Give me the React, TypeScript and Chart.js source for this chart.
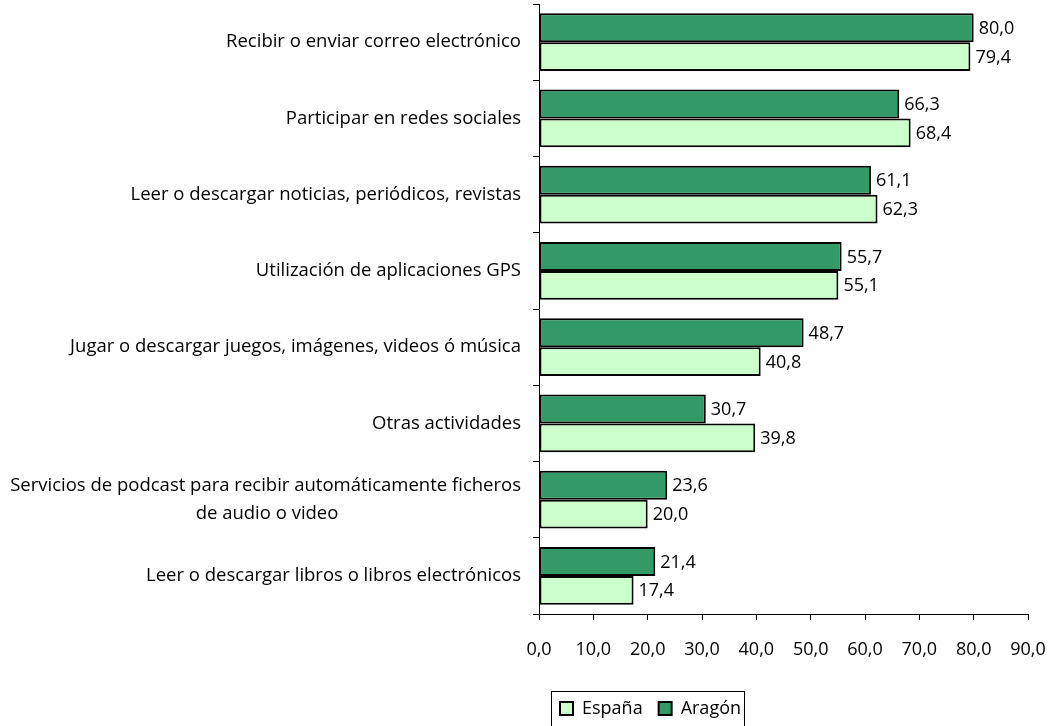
import React, { useEffect, useRef } from "react";
import { Chart, registerables } from "chart.js";

Chart.register(...registerables);

const categories: (string | string[])[] = [
  "Recibir o enviar correo electrónico",
  "Participar en redes sociales",
  "Leer o descargar noticias, periódicos, revistas",
  "Utilización de aplicaciones GPS",
  "Jugar o descargar juegos, imágenes, videos ó música",
  "Otras actividades",
  ["Servicios de podcast para recibir automáticamente ficheros", "de audio o video"],
  "Leer o descargar libros o libros electrónicos",
];
const aragon = [80.0, 66.3, 61.1, 55.7, 48.7, 30.7, 23.6, 21.4];
const espana = [79.4, 68.4, 62.3, 55.1, 40.8, 39.8, 20.0, 17.4];
const xTicks = [0, 10, 20, 30, 40, 50, 60, 70, 80, 90];

const FONT = "'Open Sans', sans-serif";
const SIZE = 18;
const YSIZE = 18.5;
const fmt = (v: number) => v.toFixed(1).replace(".", ",");

// centre the lines of a multi-line category label (right-aligned block)
const measureCtx = document.createElement("canvas").getContext("2d")!;
function centreLines(label: string | string[]): string | string[] {
  if (!Array.isArray(label)) return label;
  measureCtx.font = `${YSIZE}px ${FONT}`;
  const widths = label.map((l) => measureCtx.measureText(l).width);
  const maxW = Math.max(...widths);
  const sp = measureCtx.measureText("\u00A0").width;
  return label.map((l, i) => l + "\u00A0".repeat(Math.round((maxW - widths[i]) / 2 / sp)));
}

const valueLabels = {
  id: "valueLabels",
  afterDatasetsDraw(chart: any) {
    const ctx = chart.ctx;
    ctx.save();
    ctx.font = `${SIZE}px ${FONT}`;
    ctx.fillStyle = "#000";
    ctx.textAlign = "left";
    ctx.textBaseline = "middle";
    chart.data.datasets.forEach((ds: any, i: number) => {
      const meta = chart.getDatasetMeta(i);
      meta.data.forEach((el: any, j: number) => {
        ctx.fillText(fmt(ds.data[j]), el.x + 5, el.y + 1);
      });
    });
    ctx.restore();
  },
};

const LEG_PAD = 16;
const legendPlace = {
  id: "legendPlace",
  afterLayout(chart: any) {
    const lg = chart.legend;
    if (!lg) return;
    const w = lg.right - lg.left;
    lg.left = 560 - LEG_PAD;
    lg.right = lg.left + w;
    const h = lg.bottom - lg.top;
    lg.top = 708.5 - LEG_PAD - SIZE / 2;
    lg.bottom = lg.top + h;
  },
  afterDraw(chart: any) {
    const lg = chart.legend;
    if (!lg || !lg.legendHitBoxes || !lg.legendHitBoxes.length) return;
    const boxes = lg.legendHitBoxes;
    let l = Infinity, t = Infinity, r = -Infinity, b = -Infinity;
    boxes.forEach((h: any) => {
      l = Math.min(l, h.left);
      t = Math.min(t, h.top);
      r = Math.max(r, h.left + h.width);
      b = Math.max(b, h.top + h.height);
    });
    const ctx = chart.ctx;
    ctx.save();
    ctx.strokeStyle = "#000";
    ctx.lineWidth = 1;
    ctx.strokeRect(Math.round(l - 9) + 0.5, Math.round(t - 9) + 0.5, Math.round(r - l + 12), Math.round(b - t + 24));
    ctx.restore();
  },
};

export default function App() {
  const ref = useRef<HTMLCanvasElement>(null);
  useEffect(() => {
    document.body.style.margin = "0";
    const chart = new Chart(ref.current!, {
      type: "bar",
      data: {
        labels: categories,
        datasets: [
          {
            label: "Aragón",
            data: aragon,
            backgroundColor: "#339966",
            borderColor: "#000",
            borderWidth: 2,
            borderSkipped: false,
            categoryPercentage: 0.76,
            barPercentage: 1,
          },
          {
            label: "España",
            data: espana,
            backgroundColor: "#CCFFCC",
            borderColor: "#000",
            borderWidth: 2,
            borderSkipped: false,
            categoryPercentage: 0.76,
            barPercentage: 1,
          },
        ],
      },
      options: {
        indexAxis: "y",
        animation: false,
        responsive: false,
        devicePixelRatio: 1,
        layout: { padding: { top: 4, right: 22, left: 0, bottom: 0 } },
        scales: {
          x: {
            min: 0,
            max: 90,
            afterBuildTicks: (s: any) => {
              s.ticks = xTicks.map((v) => ({ value: v }));
            },
            afterFit: (s: any) => {
              s.height = 68;
              s.paddingLeft = 0;
              s.paddingRight = 0;
            },
            ticks: {
              font: { family: FONT, size: SIZE },
              color: "#000",
              padding: 19,
              callback: (v: any) => fmt(Number(v)),
              maxRotation: 0,
            },
            grid: {
              drawOnChartArea: false,
              drawTicks: true,
              tickLength: 6,
              color: "#000",
            },
            border: { display: true, color: "#000", width: 1 },
          },
          y: {
            afterFit: (s: any) => {
              s.width = 539;
              s.paddingTop = 0;
              s.paddingBottom = 0;
            },
            ticks: {
              font: { family: FONT, size: YSIZE, lineHeight: 1.5 },
              color: "#000",
              padding: 12,
              callback: function (this: any, v: any, i: number) {
                return centreLines(categories[i]);
              },
            },
            grid: {
              offset: true,
              drawOnChartArea: false,
              drawTicks: true,
              tickLength: 6,
              color: "#000",
            },
            border: { display: true, color: "#000", width: 1 },
          },
        },
        plugins: {
          tooltip: { enabled: false },
          legend: {
            position: "bottom",
            align: "start",
            labels: {
              font: { family: FONT, size: SIZE },
              color: "#000",
              boxWidth: 13,
              boxHeight: 13,
              padding: LEG_PAD,
              sort: (a: any, b: any) => b.datasetIndex - a.datasetIndex,
            },
          },
        },
      },
      plugins: [valueLabels, legendPlace],
    });
    return () => chart.destroy();
  }, []);
  return <canvas ref={ref} width={1050} height={726} style={{ display: "block" }} />;
}
